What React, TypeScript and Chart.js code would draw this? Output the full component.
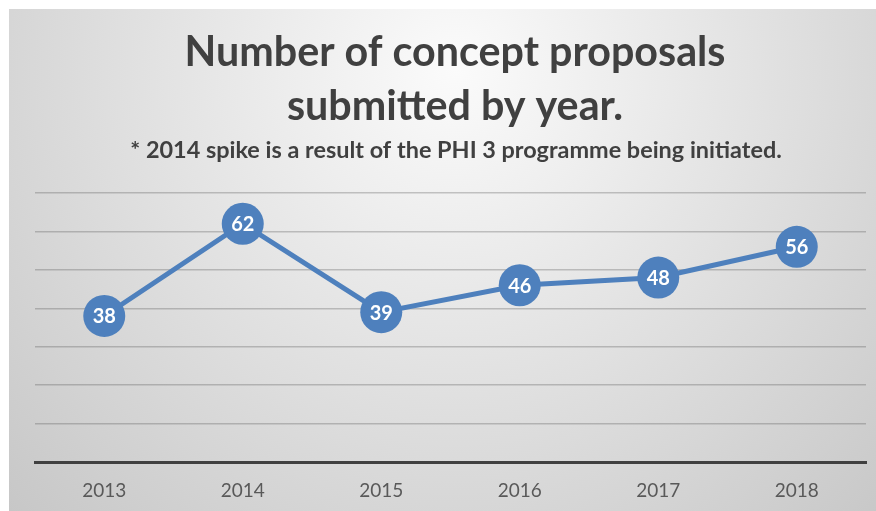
import { useEffect, useRef } from "react";
import { Chart, registerables } from "chart.js";

Chart.register(...registerables);

const years = ["2013", "2014", "2015", "2016", "2017", "2018"];
const proposals = [38, 62, 39, 46, 48, 56];
const titleLines = ["Number of concept proposals", "submitted by year."];
const subtitleText = "* 2014 spike is a result of the PHI 3 programme being initiated.";
const yMin = 0;
const yMax = 70;
const yStep = 10;

const FONT = "Lato, 'Open Sans', 'DejaVu Sans', sans-serif";
const BLUE = "#4e80bd";
const TEXT = "#404040";

const backgroundPlugin = {
  id: "bgGradient",
  beforeDraw(chart: any) {
    const { ctx, width, height } = chart;
    ctx.save();
    const g = ctx.createRadialGradient(446, 60, 0, 446, 60, 640);
    g.addColorStop(0, "#fbfbfb");
    g.addColorStop(1, "#c6c6c6");
    ctx.fillStyle = g;
    ctx.fillRect(0, 0, width, height);
    ctx.restore();
  },
};

const fitFont = (ctx: CanvasRenderingContext2D, text: string, target: number, weight: string) => {
  ctx.font = `${weight} 100px ${FONT}`;
  const w = ctx.measureText(text).width;
  return (100 * target) / w;
};

const titlePlugin = {
  id: "titleText",
  afterDraw(chart: any) {
    const { ctx } = chart;
    ctx.save();
    ctx.fillStyle = TEXT;
    ctx.textAlign = "center";
    ctx.textBaseline = "alphabetic";
    const s1 = fitFont(ctx, titleLines[0], 541, "bold");
    ctx.font = `bold ${s1}px ${FONT}`;
    ctx.fillText(titleLines[0], 446, 57);
    ctx.fillText(titleLines[1], 446, 111);
    const s2 = fitFont(ctx, subtitleText, 652, "bold");
    ctx.font = `bold ${s2}px ${FONT}`;
    ctx.fillText(subtitleText, 447, 149);
    ctx.restore();
  },
};

const labelPlugin = {
  id: "pointLabels",
  afterDatasetsDraw(chart: any) {
    const { ctx } = chart;
    const meta = chart.getDatasetMeta(0);
    const data = chart.data.datasets[0].data;
    ctx.save();
    ctx.fillStyle = "#ffffff";
    ctx.font = `bold 20px ${FONT}`;
    ctx.textAlign = "center";
    ctx.textBaseline = "middle";
    meta.data.forEach((el: any, i: number) => {
      ctx.fillText(String(data[i]), el.x, el.y + 1);
    });
    ctx.restore();
  },
};

export default function App() {
  const ref = useRef<HTMLCanvasElement | null>(null);

  useEffect(() => {
    document.documentElement.style.overflow = "hidden";
    document.body.style.overflow = "hidden";
    if (!ref.current) return;
    const chart = new Chart(ref.current, {
      type: "line",
      data: {
        labels: years,
        datasets: [
          {
            data: proposals,
            borderColor: BLUE,
            borderWidth: 5,
            pointRadius: 21,
            pointHoverRadius: 21,
            pointBackgroundColor: BLUE,
            pointBorderColor: BLUE,
            pointBorderWidth: 0,
            tension: 0,
          },
        ],
      },
      options: {
        animation: false,
        responsive: false,
        maintainAspectRatio: false,
        layout: { padding: { left: 26, right: 24, top: 184, bottom: 0 } },
        plugins: {
          legend: { display: false },
          title: { display: false },
          tooltip: { enabled: false },
        },
        scales: {
          x: {
            offset: true,
            grid: { display: false, drawTicks: false },
            border: { display: true, color: "#404040", width: 3 },
            ticks: {
              color: "#595959",
              font: { family: FONT, size: 19 },
              padding: 17,
            },
            afterFit(scale: any) {
              scale.height = 49;
            },
          },
          y: {
            min: yMin,
            max: yMax,
            ticks: { display: false, stepSize: yStep },
            grid: { color: "rgba(80,80,80,0.3)", lineWidth: 1.5, drawTicks: false },
            border: { display: false },
            afterFit(scale: any) {
              scale.width = 0;
            },
          },
        },
      },
      plugins: [backgroundPlugin, titlePlugin, labelPlugin],
    });
    return () => chart.destroy();
  }, []);

  return (
    <div style={{ position: "fixed", left: 9, top: 9, width: 881, height: 502, overflow: "hidden" }}>
      <canvas ref={ref} width={881} height={502} style={{ display: "block", width: 881, height: 502 }} />
    </div>
  );
}
